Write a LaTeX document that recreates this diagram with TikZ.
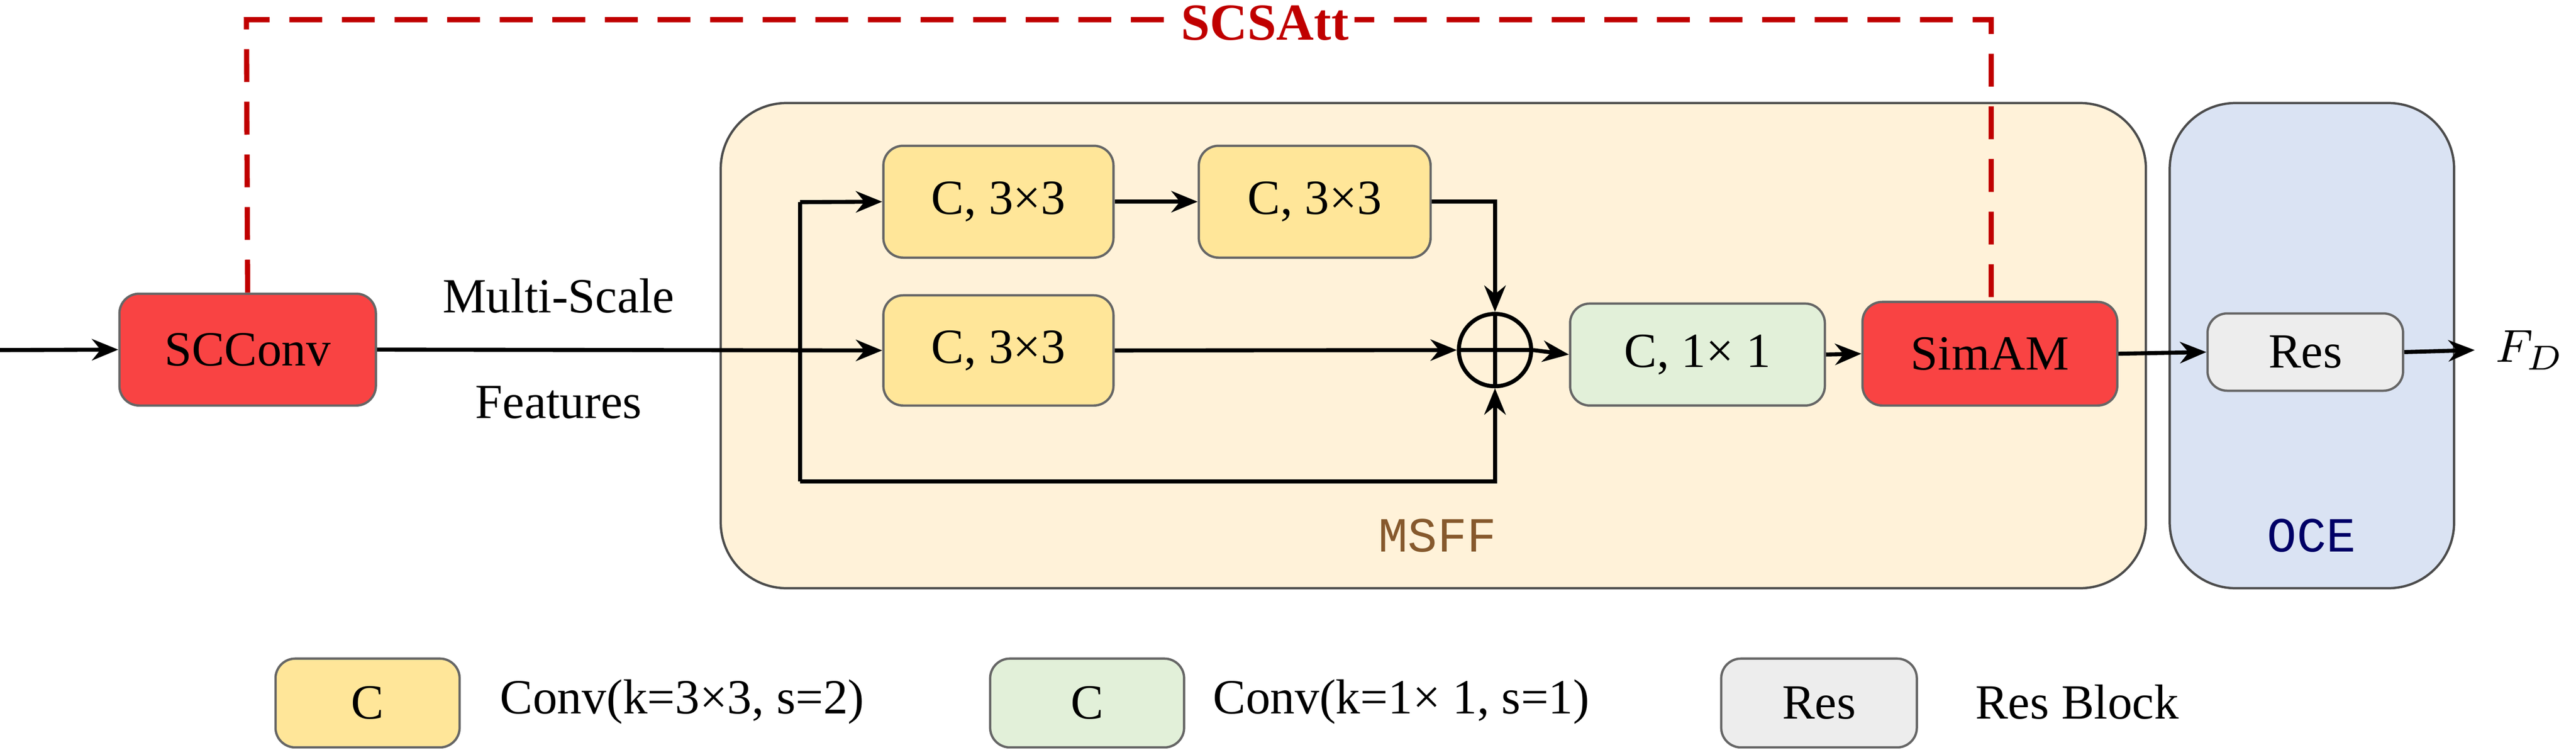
\documentclass[tikz,border=0pt]{standalone}
\usepackage{fontspec}
\setmainfont{Liberation Serif}
\setmonofont{Liberation Mono}
\usetikzlibrary{arrows.meta}
\definecolor{redb}{HTML}{F94343}
\definecolor{yelb}{HTML}{FFE699}
\definecolor{grnb}{HTML}{E2F0D9}
\definecolor{gryb}{HTML}{EDEDED}
\definecolor{msff}{HTML}{FFF2D9}
\definecolor{oce}{HTML}{DAE3F3}
\definecolor{dred}{HTML}{C00000}
\begin{document}
\begin{tikzpicture}[x=0.01cm,y=-0.01cm,
  every node/.style={font=\fontsize{8.5pt}{10pt}\selectfont},
  blk/.style={draw=black!60,rounded corners=1.2mm,inner sep=0pt,anchor=north west},
  arr/.style={-{Stealth[length=1.6mm,width=1.3mm]},line width=0.7pt},
  ln/.style={line width=0.7pt}]
\useasboundingbox (0,0) rectangle (1568,456);
% containers
\node[blk,fill=msff,draw=black!70,rounded corners=4mm,minimum width=867\pgflinewidth*0+8.67cm,minimum height=2.95cm] (msff) at (438,62) {};
\node[blk,fill=oce,draw=black!70,rounded corners=4mm,minimum width=1.73cm,minimum height=2.95cm] (oce) at (1320,62) {};
\node[text=brown!70!black,font=\ttfamily\fontsize{8.5pt}{10pt}\selectfont] (msffl) at (875,326) {MSFF};
\node[text=blue!40!black,font=\ttfamily\fontsize{8.5pt}{10pt}\selectfont] (ocel) at (1407,326) {OCE};
% blocks
\node[blk,fill=redb,minimum width=1.56cm,minimum height=0.68cm] (sc) at (72,178) {};
\node at (sc.center) {SCConv};
\node[blk,fill=yelb,minimum width=1.40cm,minimum height=0.68cm] (t1) at (537,88) {};
\node at (t1.center) {C, 3×3};
\node[blk,fill=yelb,minimum width=1.41cm,minimum height=0.68cm] (t2) at (729,88) {};
\node at (t2.center) {C, 3×3};
\node[blk,fill=yelb,minimum width=1.40cm,minimum height=0.67cm] (m) at (537,179) {};
\node at (m.center) {C, 3×3};
\node[draw,circle,minimum size=0.44cm,inner sep=0pt,line width=0.7pt] (p) at (910,213) {};
\draw[line width=0.7pt] (p.north)--(p.south) (p.west)--(p.east);
\node[blk,fill=grnb,minimum width=1.55cm,minimum height=0.62cm] (c1) at (955,184) {};
\node at (c1.center) {C, 1× 1};
\node[blk,fill=redb,minimum width=1.55cm,minimum height=0.63cm] (sim) at (1133,183) {};
\node at (sim.center) {SimAM};
\node[blk,fill=gryb,minimum width=1.19cm,minimum height=0.47cm] (res) at (1343,190) {};
\node at (res.center) {Res};
\coordinate (in) at (0,213);
\node (fd) at (1540,213) {$F_D$};
\node (ms) at (340,180) {Multi-Scale};
\node (fe) at (340,245) {Features};
% connections
\draw[arr] (in) -- (sc.west);
\draw[arr] (sc.east) -- (m.west);
\coordinate (b1) at (487,123); \coordinate (b2) at (487,293); \coordinate (b3) at (910,293);
\draw[ln] (b1) -- (b2);
\draw[arr] (b1) -- (t1.west);
\draw[arr] (b2) -- (b3) -- (p.south);
\draw[arr] (t1.east) -- (t2.west);
\draw[arr] (t2.east) -| (p.north);
\draw[arr] (m.east) -- (p.west);
\draw[arr] (p.east) -- (c1.west);
\draw[arr] (c1.east) -- (sim.west);
\draw[arr] (sim.east) -- (res.west);
\draw[arr] (res.east) -- (fd.west);
\draw[dred,dashed,line width=0.9pt,dash pattern=on 2mm off 1.2mm] (sc.north) -- (150,12) -- (1212,12) -- (1212,183);
\node[fill=white,text=dred,font=\bfseries\fontsize{9pt}{10pt}\selectfont,inner sep=1pt] (att) at (770,14) {SCSAtt};
% legend
\node[blk,fill=yelb,minimum width=1.12cm,minimum height=0.54cm] (l1) at (167,400) {};
\node at (l1.center) {C};
\node[anchor=west] (t1l) at (292,427) {Conv(k=3×3, s=2)};
\node[blk,fill=grnb,minimum width=1.18cm,minimum height=0.54cm] (l2) at (602,400) {};
\node at (l2.center) {C};
\node[anchor=west] (t2l) at (726,427) {Conv(k=1× 1, s=1)};
\node[blk,fill=gryb,minimum width=1.19cm,minimum height=0.54cm] (l3) at (1047,400) {};
\node at (l3.center) {Res};
\node[anchor=west] (t3l) at (1190,427) {Res Block};
\end{tikzpicture}
\end{document}
